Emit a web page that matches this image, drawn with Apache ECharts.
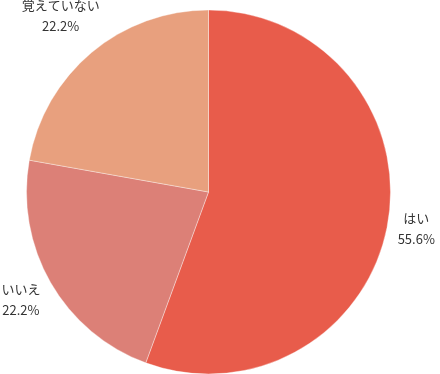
<!DOCTYPE html>
<html>
<head>
<meta charset="utf-8">
<script src="https://cdn.jsdelivr.net/npm/echarts@6/dist/echarts.min.js"></script>
<style>html,body{margin:0;padding:0;background:#fff}#c{width:440px;height:374px}</style>
</head>
<body>
<div id="c"></div>
<script>
var categories = ['はい', 'いいえ', '覚えていない'];
var values = [55.6, 22.2, 22.2];
var colors = ['#E85C4B', '#DC8077', '#E8A07E'];

var CX = 208.5, CY = 192, R = 182, GAP = 7;
var total = values.reduce(function (a, b) { return a + b; }, 0);
var cum = [];
(function () { var s = 0; for (var i = 0; i < values.length; i++) { cum.push(s + values[i] / 2); s += values[i]; } })();

var chart = echarts.init(document.getElementById('c'), null, { renderer: 'canvas' });
chart.setOption({
  animation: false,
  series: [{
    type: 'pie',
    center: [CX, CY],
    radius: [0, R],
    startAngle: 90,
    clockwise: true,
    avoidLabelOverlap: false,
    data: categories.map(function (c, i) {
      return { name: c, value: values[i], itemStyle: { color: colors[i] } };
    }),
    itemStyle: { borderColor: 'rgba(255,255,255,0.6)', borderWidth: 0.6 },
    label: {
      show: true,
      position: 'outside',
      alignTo: 'none',
      overflow: 'none',
      formatter: function (p) { return p.name + '\n' + p.value.toFixed(1) + '%'; },
      fontFamily: '"Noto Sans CJK JP", "Noto Sans", sans-serif',
      fontSize: 13,
      lineHeight: 21,
      color: '#333',
      align: 'center'
    },
    labelLine: { show: false },
    emphasis: { disabled: true },
    labelLayout: function (p) {
      var i = p.dataIndex;
      var a = cum[i] / total * 2 * Math.PI; // clockwise from top
      var dx = Math.sin(a), dy = -Math.cos(a);
      var w = p.labelRect.width, h = p.labelRect.height;
      var proj = Math.abs(dx) * w / 2 + Math.abs(dy) * h / 2;
      var d = R + GAP + proj;
      return { x: CX + dx * d, y: CY + dy * d, align: 'center', verticalAlign: 'middle' };
    }
  }]
});
</script>
</body>
</html>
